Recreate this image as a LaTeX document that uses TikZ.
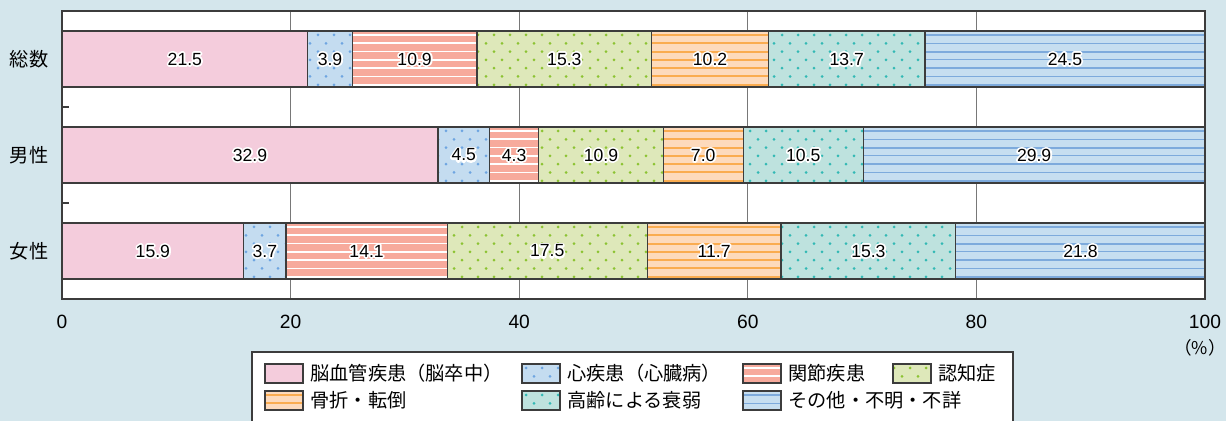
\documentclass[tikz,border=0pt]{standalone}
\usepackage{fontspec}
\setmainfont{Liberation Sans}
\newfontfamily\jfont{Noto Sans CJK JP}
\definecolor{bgBlue}{RGB}{212,230,236}
\definecolor{frameGray}{RGB}{60,60,60}
\definecolor{gridGray}{RGB}{120,120,120}
\definecolor{strokeFill}{RGB}{244,204,220}
\definecolor{heartFill}{RGB}{196,220,240}
\definecolor{heartDot}{RGB}{110,165,225}
\definecolor{jointFill}{RGB}{247,170,156}
\definecolor{dementiaFill}{RGB}{222,232,186}
\definecolor{dementiaDot}{RGB}{140,195,50}
\definecolor{fractureFill}{RGB}{253,218,188}
\definecolor{fractureLine}{RGB}{250,172,80}
\definecolor{frailFill}{RGB}{190,226,222}
\definecolor{frailDot}{RGB}{50,185,180}
\definecolor{otherFill}{RGB}{198,222,240}
\definecolor{otherLine}{RGB}{125,170,220}

% white outline behind a value
\newcommand{\halo}[1]{\leavevmode\rlap{\color{white}\special{pdf:literal direct 2 Tr 1.8 w 1 j}#1\special{pdf:literal direct 0 Tr}}#1}

\tikzset{
  kind1/.style={fill=strokeFill}, kind2/.style={fill=heartFill},
  kind3/.style={fill=jointFill}, kind4/.style={fill=dementiaFill},
  kind5/.style={fill=fractureFill}, kind6/.style={fill=frailFill},
  kind7/.style={fill=otherFill},
  segline/.style={draw=frameGray, line width=0.6pt},
  valtext/.style={font=\fontsize{8.8}{10}\selectfont, inner sep=0pt},
  catlabel/.style={font=\jfont\fontsize{9.6}{11}\selectfont, inner sep=0pt},
  axislabel/.style={font=\fontsize{9.6}{11}\selectfont, inner sep=0pt},
  legtext/.style={font=\jfont\fontsize{9.6}{11}\selectfont, anchor=west, inner sep=0pt}
}

% dotted rows: x0, x1, ytop, last row, colour
\newcommand{\dotrows}[5]{%
  \foreach \j in {0,...,#4}{%
    \pgfmathsetmacro{\yy}{#3+4+8.3*\j}%
    \pgfmathsetmacro{\sh}{mod(\j,2)*8}%
    \pgfmathtruncatemacro{\ia}{floor((#1-62-\sh)/16)}%
    \pgfmathtruncatemacro{\ib}{ceil((#2-62-\sh)/16)}%
    \foreach \i in {\ia,...,\ib}{%
      \fill[#5] ({62+\sh+16*\i},\yy) circle[radius=0.75pt];
    }%
  }}
% stripes: x0, x1, ytop, last row, colour, even width, odd width
\newcommand{\stripes}[7]{%
  \foreach \j in {0,...,#4}{%
    \pgfmathsetmacro{\yy}{#3+4+8.3*\j}%
    \ifodd\j\def\lw{#7}\else\def\lw{#6}\fi
    \draw[#5, line width=\lw] (#1,\yy) -- (#2,\yy);
  }}
% pattern of a kind: x0, x1, ytop, height, kind
\newcommand{\patt}[5]{%
  \pgfmathtruncatemacro{\nrow}{floor((#4-4)/8.3)}%
  \ifcase#5\or
  \or \dotrows{#1}{#2}{#3}{\nrow}{heartDot}%
  \or \stripes{#1}{#2}{#3}{\nrow}{white}{0.8pt}{0.8pt}%
  \or \dotrows{#1}{#2}{#3}{\nrow}{dementiaDot}%
  \or \stripes{#1}{#2}{#3}{\nrow}{fractureLine}{1pt}{1pt}%
  \or \dotrows{#1}{#2}{#3}{\nrow}{frailDot}%
  \or \stripes{#1}{#2}{#3}{\nrow}{otherLine}{1pt}{0.5pt}%
  \fi}
% one filled box: x0, x1, ytop, height, kind
\newcommand{\swatch}[5]{%
  \pgfmathsetmacro{\yb}{#3+#4}%
  \fill[kind#5] (#1,#3) rectangle (#2,\yb);
  \begin{scope}
    \clip (#1,#3) rectangle (#2,\yb);
    \patt{#1}{#2}{#3}{#4}{#5}
  \end{scope}
  \pgfmathsetmacro{\yb}{#3+#4}%
  \draw[segline] (#1,#3) rectangle (#2,\yb);
}

\begin{document}
\begin{tikzpicture}[x=0.5pt, y=-0.5pt]
  \useasboundingbox (0,0) rectangle (1226,421);
  \fill[bgBlue] (0,0) rectangle (1226,421);

  % plot area and grid
  \fill[white] (62,11) rectangle (1205,299);
  \foreach \g in {1,...,4}
    \draw[gridGray, line width=0.6pt] ({62+228.6*\g},11) -- ({62+228.6*\g},299);
  \draw[frameGray, line width=0.6pt] (62,11) rectangle (1205,299);
  \draw[frameGray, line width=0.6pt] (62,107) -- (69,107) (62,203) -- (69,203);

  % bars
  \foreach \yt/\bname/\vals in {31/total/{21.5,3.9,10.9,15.3,10.2,13.7,24.5},
                                127/male/{32.9,4.5,4.3,10.9,7.0,10.5,29.9},
                                223/female/{15.9,3.7,14.1,17.5,11.7,15.3,21.8}}{
    \gdef\acc{0}
    \foreach \v [count=\k] in \vals {
      \pgfmathsetmacro{\xa}{62+11.43*\acc}
      \pgfmathsetmacro{\newacc}{\acc+\v}
      \xdef\acc{\newacc}
      \pgfmathsetmacro{\xb}{62+11.43*\acc}
      \swatch{\xa}{\xb}{\yt}{56}{\k}
      \node[valtext] (\bname-\k) at ({(\xa+\xb)/2},{\yt+28}) {\halo{\v}};
    }
  }

  % category labels
  \node[catlabel] (total) at (29,59) {総数};
  \node[catlabel] (male) at (29,155) {男性};
  \node[catlabel] (female) at (29,251) {女性};

  % axis
  \foreach \t in {0,20,...,100}
    \node[axislabel] (tick-\t) at ({62+11.43*\t},322) {\t};
  \node[font=\jfont\fontsize{8.8}{10}\selectfont, inner sep=0pt] (unit) at (1200,348) {（\%）};

  % legend
  \fill[white] (252,352) rectangle (1013,430);
  \draw[frameGray, line width=0.6pt] (252,430) -- (252,352) -- (1013,352) -- (1013,430);
  \foreach \lx/\ly/\k/\txt in {265/364/1/脳血管疾患（脳卒中）, 522/364/2/心疾患（心臓病）,
                               743/364/3/関節疾患, 893/364/4/認知症,
                               265/391/5/骨折・転倒, 522/391/6/高齢による衰弱,
                               743/391/7/その他・不明・不詳}{
    \pgfmathsetmacro{\lxb}{\lx+38}
    \swatch{\lx}{\lxb}{\ly}{19}{\k}
    \node[legtext] (leg-\k) at ({\lx+45},{\ly+9.5}) {\txt};
  }
\end{tikzpicture}
\end{document}
